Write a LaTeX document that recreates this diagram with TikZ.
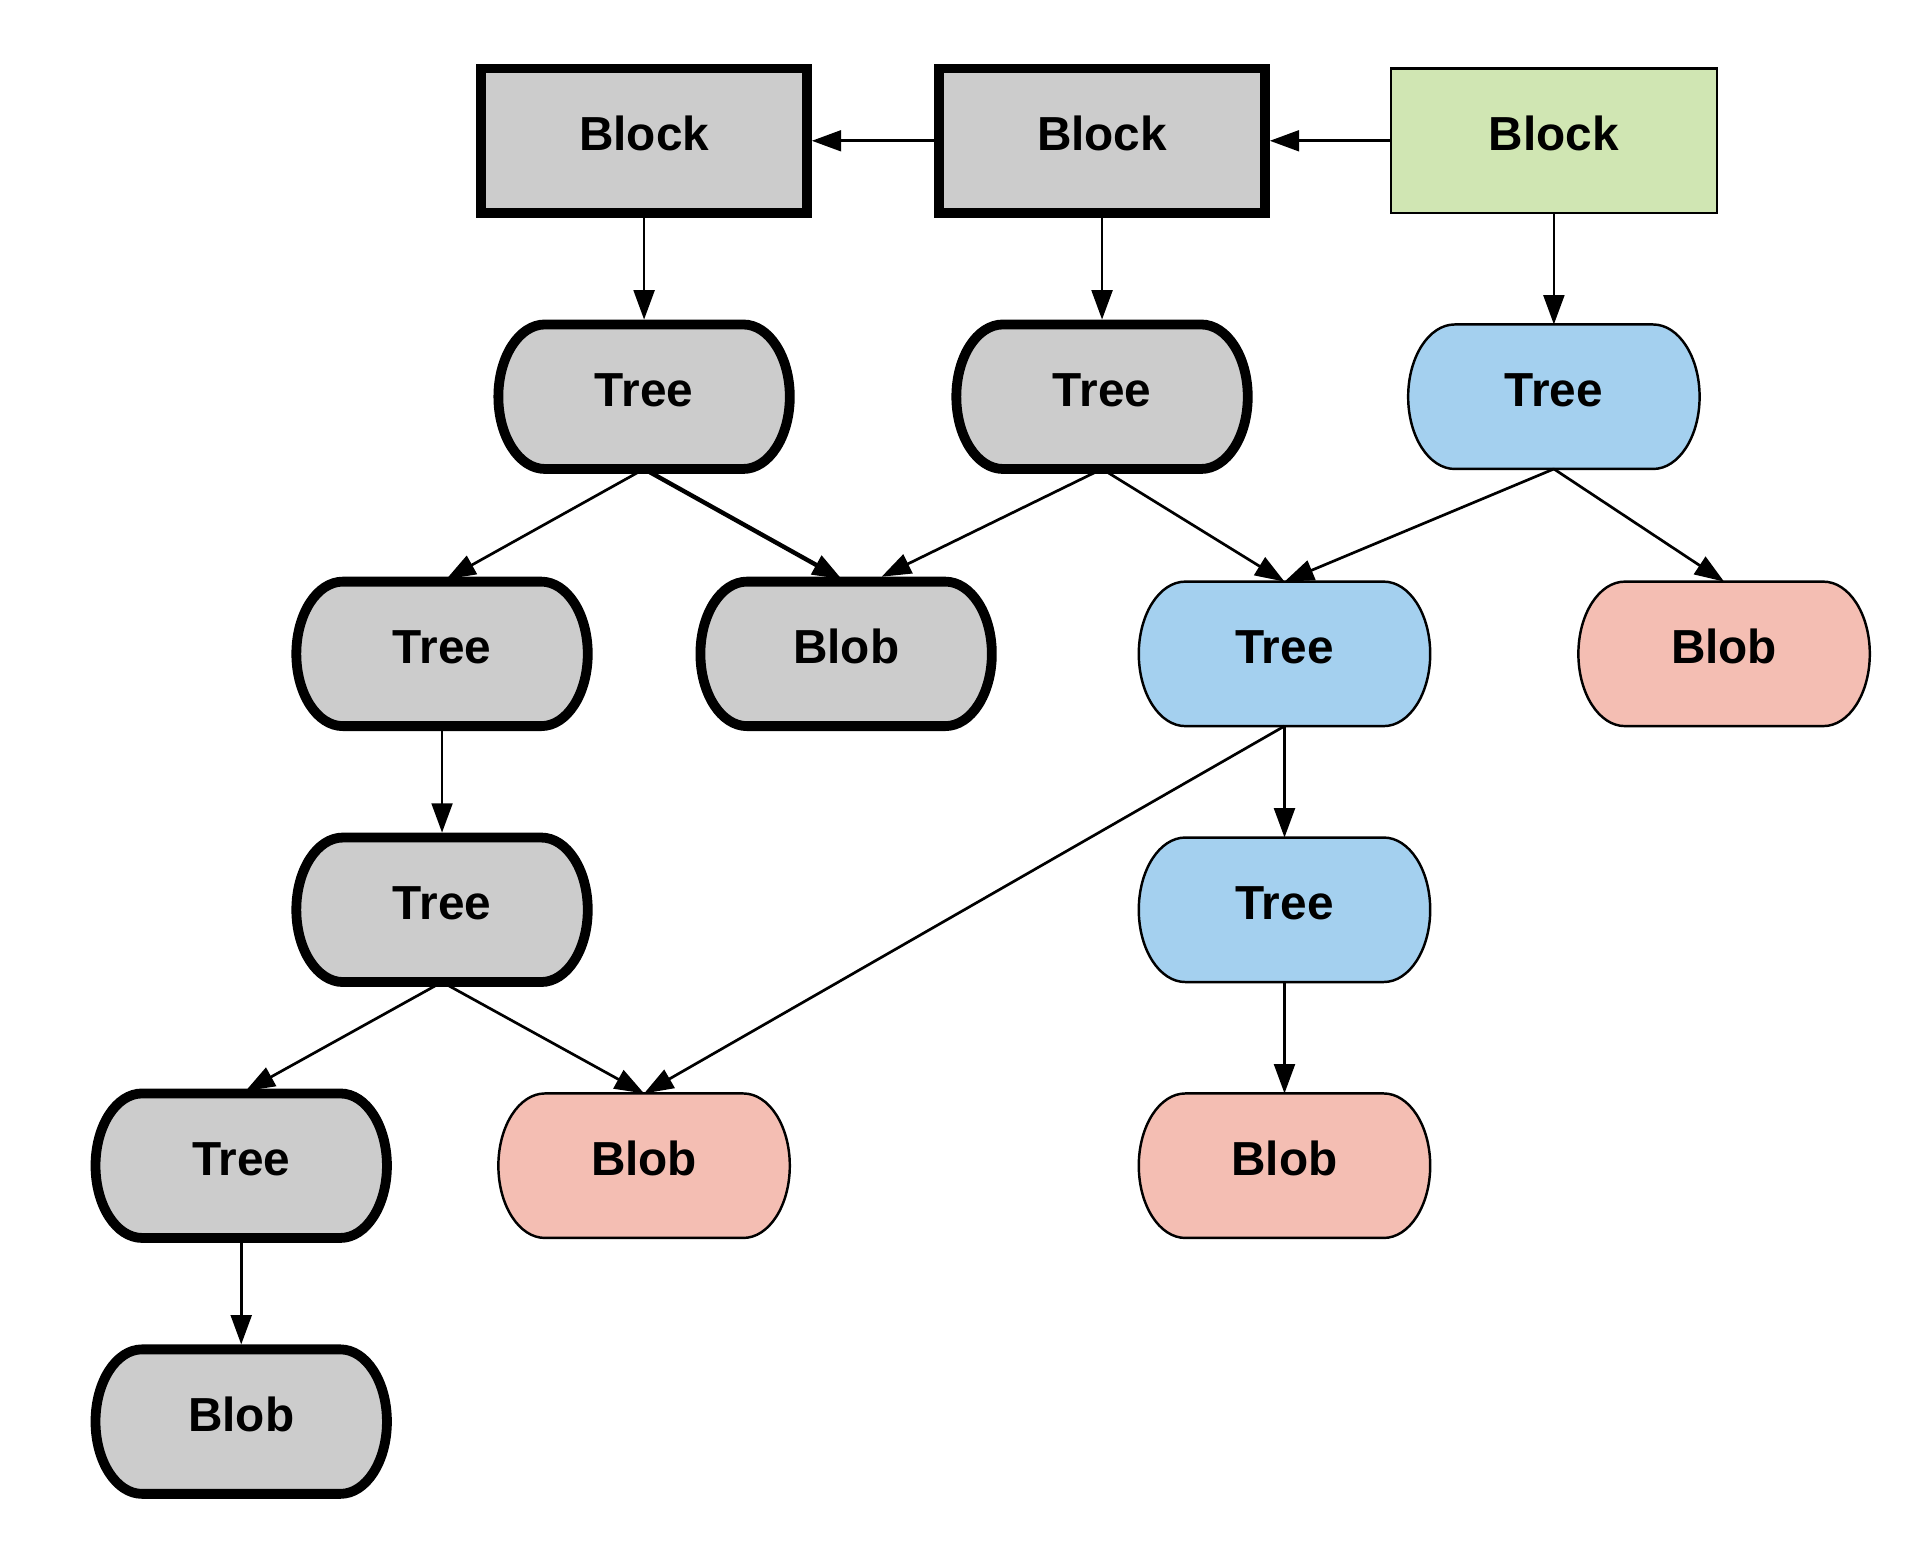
\documentclass[tikz,border=0pt]{standalone}
\usepackage{fontspec}
\setmainfont{Liberation Sans}
\usetikzlibrary{arrows.meta,backgrounds}

\definecolor{nodegray}{HTML}{CCCCCC}
\definecolor{blockgreen}{HTML}{D0E6B3}
\definecolor{treeblue}{HTML}{A4D0EF}
\definecolor{blobpink}{HTML}{F4BEB3}

% pill outline (straight top/bottom, elliptic ends) around a named node
\newcommand\pill[2]{%
  \draw[#1] ([xshift=19pt]#2.north west) -- ([xshift=-19pt]#2.north east)
    arc[start angle=90,end angle=-90,x radius=19pt,y radius=29.5pt]
    -- ([xshift=19pt]#2.south west)
    arc[start angle=270,end angle=90,x radius=19pt,y radius=29.5pt] -- cycle;}

\tikzset{
  lbl/.style={font=\bfseries\fontsize{19.5pt}{23pt}\selectfont,
    text height=14pt, text depth=6pt, inner sep=0pt, outer sep=0pt},
  pillnode/.style={lbl, minimum width=119pt, minimum height=59pt},
  blocknode/.style={lbl, draw=black, minimum width=133pt, minimum height=59pt},
  oldblock/.style={blocknode, fill=nodegray, line width=4pt},
  newblock/.style={blocknode, fill=blockgreen, line width=1pt},
  grayshape/.style={fill=nodegray, draw=black, line width=4pt},
  blueshape/.style={fill=treeblue, draw=black, line width=1pt},
  pinkshape/.style={fill=blobpink, draw=black, line width=1pt},
  link/.style={-{Triangle[length=12pt,width=8.5pt]}, line width=1.1pt, draw=black},
  boldlink/.style={link, line width=1.8pt},
  % tips stop on the outside of a heavy border
  tothick/.style={shorten >=2pt},
}

\begin{document}
\begin{tikzpicture}[x=0.5pt,y=0.5pt]
  \useasboundingbox (0,0) rectangle (1568,1263);

  % commit blocks
  \node[oldblock] (b1) at (526,1148) {Block};
  \node[oldblock] (b2) at (900,1148) {Block};
  \node[newblock] (b3) at (1269,1148) {Block};

  % trees and blobs
  \node[pillnode] (t1) at (526,939) {Tree};
  \node[pillnode] (t2) at (900,939) {Tree};
  \node[pillnode] (t3) at (1269,939) {Tree};

  \node[pillnode] (t4) at (361,729) {Tree};
  \node[pillnode] (o1) at (691,729) {Blob};
  \node[pillnode] (t5) at (1049,729) {Tree};
  \node[pillnode] (o2) at (1408,729) {Blob};

  \node[pillnode] (t6) at (361,520) {Tree};
  \node[pillnode] (t7) at (1049,520) {Tree};

  \node[pillnode] (t8) at (197,311) {Tree};
  \node[pillnode] (o3) at (526,311) {Blob};
  \node[pillnode] (o4) at (1049,311) {Blob};

  \node[pillnode] (o5) at (197,102) {Blob};

  \begin{pgfonlayer}{background}
    \fill[white] (0,0) rectangle (1568,1263);
    \pill{grayshape}{t1}
    \pill{grayshape}{t2}
    \pill{blueshape}{t3}
    \pill{grayshape}{t4}
    \pill{grayshape}{o1}
    \pill{blueshape}{t5}
    \pill{pinkshape}{o2}
    \pill{grayshape}{t6}
    \pill{blueshape}{t7}
    \pill{grayshape}{t8}
    \pill{pinkshape}{o3}
    \pill{pinkshape}{o4}
    \pill{grayshape}{o5}
  \end{pgfonlayer}

  % parent links
  \draw[link,tothick] (b2.west) -- (b1.east);
  \draw[link,tothick] (b3.west) -- (b2.east);

  % block -> tree
  \draw[link,tothick] (b1.south) -- (t1.north);
  \draw[link,tothick] (b2.south) -- (t2.north);
  \draw[link] (b3.south) -- (t3.north);

  % tree contents
  \draw[link,tothick] (t1.south) -- (t4.north);
  \draw[boldlink,tothick] (t1.south) -- (o1.north);
  \draw[link] (t2.south) -- ([xshift=14.5pt,yshift=2pt]o1.north);
  \draw[link] (t2.south) -- (t5.north);
  \draw[link] (t3.south) -- (t5.north);
  \draw[link] (t3.south) -- (o2.north);
  \draw[link,tothick] (t4.south) -- (t6.north);
  \draw[link] (t5.south) -- (t7.north);
  \draw[link] (t5.south) -- (o3.north);
  \draw[link,tothick] (t6.south) -- (t8.north);
  \draw[link] (t6.south) -- (o3.north);
  \draw[link] (t7.south) -- (o4.north);
  \draw[link,tothick] (t8.south) -- (o5.north);
\end{tikzpicture}
\end{document}
